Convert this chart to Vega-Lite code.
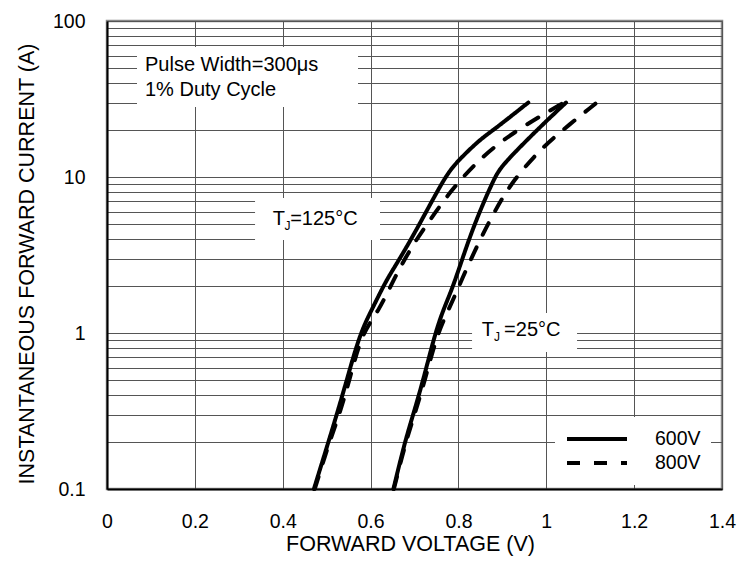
{
  "$schema": "https://vega.github.io/schema/vega-lite/v6.json",
  "width": 615,
  "height": 468,
  "autosize": {"type": "none"},
  "padding": {"left": 107, "top": 21, "right": 27, "bottom": 73},
  "background": "white",
  "config": {
    "font": "Liberation Sans",
    "view": {"stroke": "#888888", "strokeWidth": 2.5},
    "text": {"font": "Liberation Sans", "color": "#000000"}
  },
  "datasets": {
    "curves": [
      {"v": 0.471, "i": 0.1, "curve": "600V 125C", "voltage": "600V"},
      {"v": 0.504, "i": 0.2, "curve": "600V 125C", "voltage": "600V"},
      {"v": 0.523, "i": 0.3, "curve": "600V 125C", "voltage": "600V"},
      {"v": 0.546, "i": 0.5, "curve": "600V 125C", "voltage": "600V"},
      {"v": 0.576, "i": 1, "curve": "600V 125C", "voltage": "600V"},
      {"v": 0.606, "i": 1.47, "curve": "600V 125C", "voltage": "600V"},
      {"v": 0.636, "i": 2.19, "curve": "600V 125C", "voltage": "600V"},
      {"v": 0.667, "i": 3, "curve": "600V 125C", "voltage": "600V"},
      {"v": 0.712, "i": 5, "curve": "600V 125C", "voltage": "600V"},
      {"v": 0.769, "i": 10, "curve": "600V 125C", "voltage": "600V"},
      {"v": 0.796, "i": 12.5, "curve": "600V 125C", "voltage": "600V"},
      {"v": 0.85, "i": 17.5, "curve": "600V 125C", "voltage": "600V"},
      {"v": 0.88, "i": 20, "curve": "600V 125C", "voltage": "600V"},
      {"v": 0.959, "i": 30, "curve": "600V 125C", "voltage": "600V"},

      {"v": 0.473, "i": 0.1, "curve": "800V 125C", "voltage": "800V"},
      {"v": 0.506, "i": 0.2, "curve": "800V 125C", "voltage": "800V"},
      {"v": 0.529, "i": 0.3, "curve": "800V 125C", "voltage": "800V"},
      {"v": 0.552, "i": 0.5, "curve": "800V 125C", "voltage": "800V"},
      {"v": 0.58, "i": 1, "curve": "800V 125C", "voltage": "800V"},
      {"v": 0.618, "i": 1.37, "curve": "800V 125C", "voltage": "800V"},
      {"v": 0.652, "i": 2.19, "curve": "800V 125C", "voltage": "800V"},
      {"v": 0.693, "i": 3.57, "curve": "800V 125C", "voltage": "800V"},
      {"v": 0.735, "i": 5.3, "curve": "800V 125C", "voltage": "800V"},
      {"v": 0.784, "i": 8.25, "curve": "800V 125C", "voltage": "800V"},
      {"v": 0.838, "i": 12.2, "curve": "800V 125C", "voltage": "800V"},
      {"v": 0.9, "i": 17.3, "curve": "800V 125C", "voltage": "800V"},
      {"v": 0.982, "i": 24.2, "curve": "800V 125C", "voltage": "800V"},
      {"v": 1.04, "i": 30, "curve": "800V 125C", "voltage": "800V"},

      {"v": 0.652, "i": 0.1, "curve": "600V 25C", "voltage": "600V"},
      {"v": 0.678, "i": 0.2, "curve": "600V 25C", "voltage": "600V"},
      {"v": 0.697, "i": 0.3, "curve": "600V 25C", "voltage": "600V"},
      {"v": 0.72, "i": 0.5, "curve": "600V 25C", "voltage": "600V"},
      {"v": 0.747, "i": 1, "curve": "600V 25C", "voltage": "600V"},
      {"v": 0.768, "i": 1.47, "curve": "600V 25C", "voltage": "600V"},
      {"v": 0.788, "i": 1.98, "curve": "600V 25C", "voltage": "600V"},
      {"v": 0.823, "i": 3.95, "curve": "600V 25C", "voltage": "600V"},
      {"v": 0.853, "i": 6.46, "curve": "600V 25C", "voltage": "600V"},
      {"v": 0.883, "i": 10, "curve": "600V 25C", "voltage": "600V"},
      {"v": 0.9, "i": 12, "curve": "600V 25C", "voltage": "600V"},
      {"v": 0.99, "i": 21.5, "curve": "600V 25C", "voltage": "600V"},
      {"v": 1.045, "i": 30, "curve": "600V 25C", "voltage": "600V"},

      {"v": 0.653, "i": 0.1, "curve": "800V 25C", "voltage": "800V"},
      {"v": 0.68, "i": 0.2, "curve": "800V 25C", "voltage": "800V"},
      {"v": 0.7, "i": 0.3, "curve": "800V 25C", "voltage": "800V"},
      {"v": 0.724, "i": 0.5, "curve": "800V 25C", "voltage": "800V"},
      {"v": 0.752, "i": 1, "curve": "800V 25C", "voltage": "800V"},
      {"v": 0.781, "i": 1.47, "curve": "800V 25C", "voltage": "800V"},
      {"v": 0.809, "i": 2.25, "curve": "800V 25C", "voltage": "800V"},
      {"v": 0.845, "i": 3.76, "curve": "800V 25C", "voltage": "800V"},
      {"v": 0.88, "i": 5.85, "curve": "800V 25C", "voltage": "800V"},
      {"v": 0.917, "i": 8.88, "curve": "800V 25C", "voltage": "800V"},
      {"v": 0.974, "i": 13.8, "curve": "800V 25C", "voltage": "800V"},
      {"v": 1.023, "i": 18.6, "curve": "800V 25C", "voltage": "800V"},
      {"v": 1.115, "i": 30, "curve": "800V 25C", "voltage": "800V"}
    ],
    "boxes": [
      {"x1": 0.0683, "x2": 0.5714, "y1": 28.1, "y2": 68.1},
      {"x1": 0.337, "x2": 0.6215, "y1": 3.95, "y2": 7.33},
      {"x1": 0.831, "x2": 1.07, "y1": 0.755, "y2": 1.343}
    ],
    "notes": [
      {"v": 0.0865, "i": 52.2, "text": "Pulse Width=300μs"},
      {"v": 0.0865, "i": 36.1, "text": "1% Duty Cycle"},
      {"v": 0.3771, "i": 5.38, "text": "T"},
      {"v": 0.417, "i": 5.38, "text": "=125°C"},
      {"v": 0.853, "i": 1.045, "text": "T"},
      {"v": 0.904, "i": 1.045, "text": "=25°C"}
    ],
    "subs": [
      {"v": 0.404, "i": 5.38, "text": "J"},
      {"v": 0.881, "i": 1.045, "text": "J"}
    ]
  },
  "layer": [
    {
      "data": {"name": "boxes"},
      "mark": {"type": "rect", "fill": "white", "stroke": null},
      "encoding": {
        "x": {
          "field": "x1", "type": "quantitative",
          "scale": {"domain": [0, 1.4], "nice": false, "zero": false},
          "axis": {
            "title": "FORWARD VOLTAGE (V)",
            "values": [0, 0.2, 0.4, 0.6, 0.8, 1, 1.2, 1.4],
            "format": "~g",
            "labelFlush": false,
            "labelOverlap": false,
            "labelBound": false,
            "labelFont": "Liberation Sans",
            "labelFontSize": 19.5,
            "labelColor": "#000000",
            "labelPadding": 23.5,
            "ticks": false,
            "tickSize": 0,
            "domain": true,
            "domainColor": "#000000",
            "domainWidth": 2,
            "grid": true,
            "gridColor": "#555555",
            "gridWidth": 1,
            "titleFont": "Liberation Sans",
            "titleFontSize": 21.5,
            "titleFontWeight": "normal",
            "titleColor": "#000000",
            "titleX": 303,
            "titleY": 61,
            "titleAlign": "center",
            "titleBaseline": "alphabetic"
          }
        },
        "x2": {"field": "x2"},
        "y": {
          "field": "y1", "type": "quantitative",
          "scale": {"type": "log", "domain": [0.1, 100], "nice": false},
          "axis": {
            "title": "INSTANTANEOUS FORWARD CURRENT (A)",
            "values": [0.1, 0.2, 0.3, 0.4, 0.5, 0.6, 0.7, 0.8, 0.9, 1, 2, 3, 4, 5, 6, 7, 8, 9, 10, 20, 30, 40, 50, 60, 70, 80, 90, 100],
            "labelExpr": "indexof([0.1, 1, 10, 100], datum.value) >= 0 ? (datum.value < 1 ? '0.1' : format(datum.value, 'd')) : ''",
            "labelOverlap": false,
            "labelBound": false,
            "labelFont": "Liberation Sans",
            "labelFontSize": 19.5,
            "labelColor": "#000000",
            "labelPadding": 22,
            "ticks": false,
            "tickSize": 0,
            "domain": true,
            "domainColor": "#000000",
            "domainWidth": 2,
            "grid": true,
            "gridColor": "#555555",
            "gridWidth": 1,
            "titleFont": "Liberation Sans",
            "titleFontSize": 21.5,
            "titleFontWeight": "normal",
            "titleColor": "#000000",
            "titleAngle": 270,
            "titleX": -74,
            "titleY": 242.5,
            "titleAlign": "center",
            "titleBaseline": "alphabetic"
          }
        },
        "y2": {"field": "y2"}
      }
    },
    {
      "data": {"name": "curves"},
      "mark": {"type": "line", "color": "#000000", "strokeWidth": 4, "strokeCap": "round", "interpolate": "basis"},
      "encoding": {
        "x": {"field": "v", "type": "quantitative"},
        "y": {"field": "i", "type": "quantitative"},
        "detail": {"field": "curve"},
        "strokeDash": {
          "field": "voltage", "type": "nominal",
          "scale": {"domain": ["600V", "800V"], "range": [[1, 0], [13, 14]]},
          "legend": {
            "title": null,
            "orient": "none",
            "legendX": 448,
            "legendY": 396,
            "symbolType": "stroke",
            "symbolSize": 3600,
            "symbolStrokeWidth": 4,
            "symbolStrokeColor": "#000000",
            "clipHeight": 24,
            "rowPadding": 0,
            "labelFont": "Liberation Sans",
            "labelFontSize": 19.5,
            "labelColor": "#000000",
            "labelOffset": 26,
            "fillColor": "white",
            "strokeColor": null,
            "padding": 10
          }
        }
      }
    },
    {
      "data": {"name": "notes"},
      "mark": {"type": "text", "align": "left", "baseline": "middle", "fontSize": 20, "font": "Liberation Sans", "color": "#000000"},
      "encoding": {
        "x": {"field": "v", "type": "quantitative"},
        "y": {"field": "i", "type": "quantitative"},
        "text": {"field": "text"}
      }
    },
    {
      "data": {"name": "subs"},
      "mark": {"type": "text", "align": "left", "baseline": "middle", "fontSize": 12, "dy": 7, "font": "Liberation Sans", "color": "#000000"},
      "encoding": {
        "x": {"field": "v", "type": "quantitative"},
        "y": {"field": "i", "type": "quantitative"},
        "text": {"field": "text"}
      }
    }
  ]
}
